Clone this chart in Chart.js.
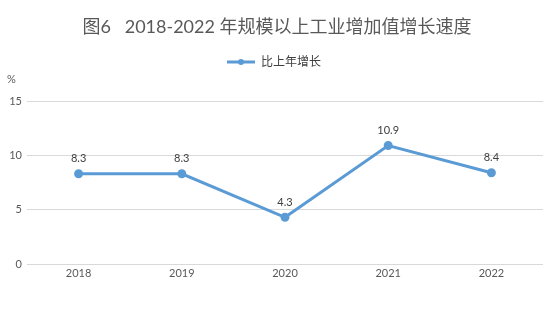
<!DOCTYPE html>
<html>
<head>
<meta charset="utf-8">
<script src="https://cdn.jsdelivr.net/npm/chart.js@4/dist/chart.umd.min.js"></script>
<style>
  html, body { margin: 0; padding: 0; background: #fff; }
  #wrap { width: 554px; height: 323px; }
</style>
</head>
<body>
<div id="wrap"><canvas id="growthChart" width="554" height="323"></canvas></div>
<script>
// data
var years = ["2018", "2019", "2020", "2021", "2022"];
var growth = [8.3, 8.3, 4.3, 10.9, 8.4];
var yTicks = [0, 5, 10, 15];
var titleText = "图6   2018-2022 年规模以上工业增加值增长速度";
var seriesName = "比上年增长";
var unitText = "%";

var lineColor = "#5b9bd5";
var textColor = "#595959";
var fontFamily = "Lato, 'Noto Sans CJK SC', sans-serif";

// title, legend, unit label and value labels
var decorations = {
    id: "decorations",
    afterDatasetsDraw: function(chart) {
        var ctx = chart.ctx;
        ctx.save();

        ctx.fillStyle = textColor;
        ctx.textAlign = "center";
        ctx.textBaseline = "middle";
        ctx.font = "18px " + fontFamily;
        ctx.fillText(titleText, 277, 27);

        // legend marker
        ctx.strokeStyle = lineColor;
        ctx.lineWidth = 3;
        ctx.beginPath();
        ctx.moveTo(227, 62);
        ctx.lineTo(255, 62);
        ctx.stroke();
        ctx.fillStyle = lineColor;
        ctx.beginPath();
        ctx.arc(241, 62, 3, 0, Math.PI * 2);
        ctx.fill();

        ctx.fillStyle = "#404040";
        ctx.textAlign = "left";
        ctx.font = "12px " + fontFamily;
        ctx.fillText(seriesName, 261, 62);

        ctx.fillStyle = textColor;
        ctx.font = "11px " + fontFamily;
        ctx.fillText(unitText, 7, 79);

        // values above points
        var meta = chart.getDatasetMeta(0);
        ctx.textAlign = "center";
        ctx.fillStyle = "#404040";
        ctx.font = "11px " + fontFamily;
        meta.data.forEach(function(pt, i) {
            ctx.fillText(growth[i].toFixed(1), pt.x, pt.y - 15);
        });
        ctx.restore();
    }
};

var ctx = document.getElementById("growthChart").getContext("2d");
var growthChart = new Chart(ctx, {
    type: "line",
    data: {
        labels: years,
        datasets: [{
            label: seriesName,
            data: growth,
            borderColor: lineColor,
            backgroundColor: lineColor,
            borderWidth: 3,
            pointRadius: 3,
            pointHoverRadius: 3,
            tension: 0
        }]
    },
    options: {
        responsive: false,
        animation: false,
        layout: { padding: { top: 101, right: 11, bottom: 0, left: 0 } },
        plugins: {
            legend: { display: false },
            title: { display: false },
            tooltip: { enabled: false }
        },
        scales: {
            x: {
                offset: true,
                grid: { display: false, drawTicks: false },
                border: { display: false },
                ticks: { color: textColor, font: { family: fontFamily, size: 11 }, padding: 3 },
                afterFit: function(scale) { scale.height = 59; }
            },
            y: {
                min: 0,
                max: 15,
                afterBuildTicks: function(scale) {
                    scale.ticks = yTicks.map(function(v) { return { value: v }; });
                },
                grid: { color: "#d9d9d9", lineWidth: 1, drawTicks: false },
                border: { display: false },
                ticks: { color: textColor, font: { family: fontFamily, size: 11 }, padding: 5 },
                afterFit: function(scale) { scale.width = 27; }
            }
        }
    },
    plugins: [decorations]
});
</script>
</body>
</html>
